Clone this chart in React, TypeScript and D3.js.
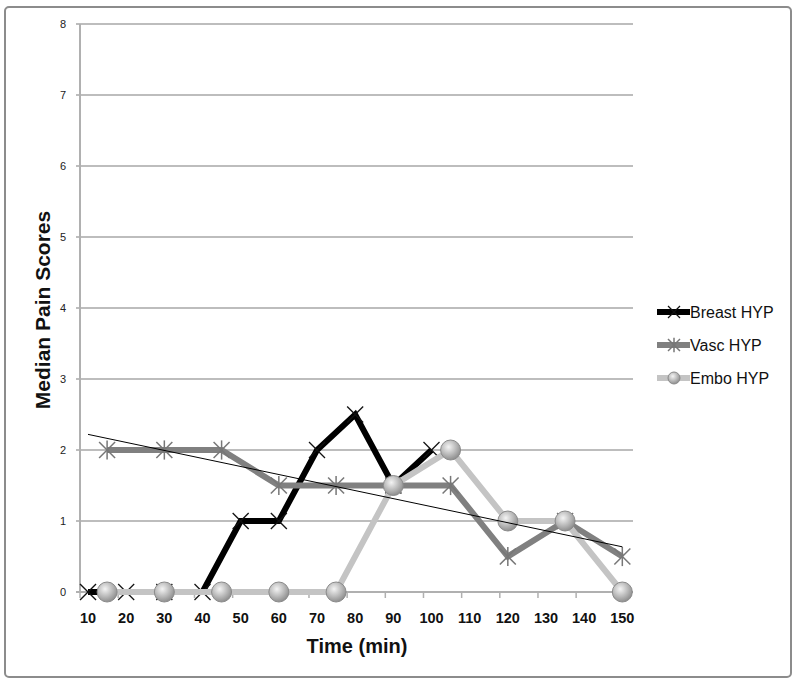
import React from "react";
import * as d3 from "d3";

const breastTimes = [10, 20, 30, 40, 50, 60, 70, 80, 90, 100];
const breastValues = [0, 0, 0, 0, 1, 1, 2, 2.5, 1.5, 2];
const otherTimes = [15, 30, 45, 60, 75, 90, 105, 120, 135, 150];
const vascValues = [2, 2, 2, 1.5, 1.5, 1.5, 1.5, 0.5, 1, 0.5];
const emboValues = [0, 0, 0, 0, 0, 1.5, 2, 1, 1, 0];
const xTickLabels = [10, 20, 30, 40, 50, 60, 70, 80, 90, 100, 110, 120, 130, 140, 150];
const yTicks = [0, 1, 2, 3, 4, 5, 6, 7, 8];
const legendNames = ["Breast HYP", "Vasc HYP", "Embo HYP"];

const W = 800, H = 688;
const left = 80, right = 633, top = 24, bottom = 592;

export default function App() {
  const x = d3.scaleLinear().domain([7.9, 152.8]).range([left, right]);
  const y = d3.scaleLinear().domain([0, 8]).range([bottom, top]);
  const line = d3.line<[number, number]>().x(d => x(d[0])).y(d => y(d[1]));

  const breast: [number, number][] = breastTimes.map((t, i) => [t, breastValues[i]]);
  const vasc: [number, number][] = otherTimes.map((t, i) => [t, vascValues[i]]);
  const embo: [number, number][] = otherTimes.map((t, i) => [t, emboValues[i]]);

  // linear trend of Vasc series (by index), extended to chart start
  const n = vascValues.length;
  const idx = d3.range(1, n + 1);
  const mx = d3.mean(idx)!, my = d3.mean(vascValues)!;
  const slope = d3.sum(idx.map((i, k) => (i - mx) * (vascValues[k] - my))) / d3.sum(idx.map(i => (i - mx) ** 2));
  const stepT = otherTimes[1] - otherTimes[0];
  const valAtT = (t: number) => my + slope * ((t - otherTimes[0]) / stepT + 1 - mx);
  const trendStart = 10, trendEnd = 150;

  const tickTs = d3.range(0, 15).map(k => 7.9 + 10 * k);

  const xMark = (cx: number, cy: number, s: number, key: string | number, color = "#111") => (
    <g key={key} stroke={color} strokeWidth={1.3}>
      <line x1={cx - s} y1={cy - s} x2={cx + s} y2={cy + s} />
      <line x1={cx - s} y1={cy + s} x2={cx + s} y2={cy - s} />
    </g>
  );
  const starMark = (cx: number, cy: number, s: number, key: string | number) => (
    <g key={key} stroke="#777" strokeWidth={1.5}>
      <line x1={cx - s} y1={cy - s} x2={cx + s} y2={cy + s} />
      <line x1={cx - s} y1={cy + s} x2={cx + s} y2={cy - s} />
      <line x1={cx} y1={cy - s * 1.2} x2={cx} y2={cy + s * 1.2} />
    </g>
  );
  const circMark = (cx: number, cy: number, r: number, key: string | number) => (
    <circle key={key} cx={cx} cy={cy} r={r} fill="url(#sphere)" stroke="#8a8a8a" strokeWidth={1} />
  );

  const legendY = [312, 345, 378];
  const legendColors = ["#000", "#808080", "#c4c4c4"];

  return (
    <svg width={W} height={H} style={{ position: "absolute", left: 0, top: 0, background: "#fff" }}
      fontFamily="'Liberation Sans', Arial, sans-serif">
      <defs>
        <radialGradient id="sphere" cx="40%" cy="35%" r="65%">
          <stop offset="0%" stopColor="#f4f4f4" />
          <stop offset="60%" stopColor="#b8b8b8" />
          <stop offset="100%" stopColor="#8f8f8f" />
        </radialGradient>
      </defs>
      <rect x={5} y={7} width={786} height={670} rx={4} fill="#fff" stroke="#8c8c8c" strokeWidth={2} />

      {/* gridlines */}
      {yTicks.filter(v => v > 0).map(v => (
        <line key={"g" + v} x1={left - 4} x2={right} y1={y(v)} y2={y(v)} stroke="#bdbdbd" strokeWidth={2} />
      ))}
      {/* axes */}
      <line x1={left} x2={left} y1={top} y2={bottom} stroke="#b0b0b0" strokeWidth={2} />
      <line x1={left - 4} x2={right} y1={bottom} y2={bottom} stroke="#b0b0b0" strokeWidth={2} />
      {tickTs.map((t, i) => (
        <line key={"t" + i} x1={x(t)} x2={x(t)} y1={bottom} y2={bottom + 6} stroke="#b0b0b0" strokeWidth={1.5} />
      ))}
      {yTicks.map(v => (
        <text key={"yl" + v} x={66} y={y(v) + 4} textAnchor="end" fontSize={11} fill="#222">{v}</text>
      ))}
      {xTickLabels.map(t => (
        <text key={"xl" + t} x={x(t)} y={623} textAnchor="middle" fontSize={14.5} fontWeight="bold" fill="#111">{t}</text>
      ))}
      <text x={357} y={653} textAnchor="middle" fontSize={20} fontWeight="bold" fill="#111">Time (min)</text>
      <text transform="translate(50,310) rotate(-90)" textAnchor="middle" fontSize={21} fontWeight="bold" fill="#111">Median Pain Scores</text>

      {/* series */}
      <path d={line(breast)!} fill="none" stroke="#000" strokeWidth={6} strokeLinejoin="miter" />
      {breast.map((d, i) => xMark(x(d[0]), y(d[1]), 8, "b" + i))}
      <path d={line(vasc)!} fill="none" stroke="#808080" strokeWidth={6} />
      {vasc.map((d, i) => starMark(x(d[0]), y(d[1]), 8, "v" + i))}
      <path d={line(embo)!} fill="none" stroke="#c4c4c4" strokeWidth={6} />
      {embo.map((d, i) => circMark(x(d[0]), y(d[1]), 10, "e" + i))}

      {/* trendline */}
      <line x1={x(trendStart)} y1={y(valAtT(trendStart))} x2={x(trendEnd)} y2={y(valAtT(trendEnd))} stroke="#000" strokeWidth={1} />

      {/* legend */}
      {legendNames.map((name, i) => {
        const ly = legendY[i];
        return (
          <g key={"lg" + i}>
            <line x1={657} x2={690} y1={ly} y2={ly} stroke={legendColors[i]} strokeWidth={6} />
            {i === 0 && xMark(674, ly, 6, "lm0")}
            {i === 1 && starMark(674, ly, 6, "lm1")}
            {i === 2 && circMark(674, ly, 6, "lm2")}
            <text x={690} y={ly + 6} fontSize={16} fill="#111">{name}</text>
          </g>
        );
      })}
    </svg>
  );
}
